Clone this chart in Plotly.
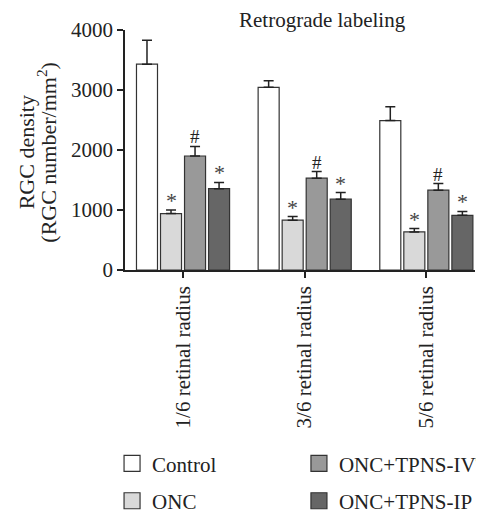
import plotly.graph_objects as go

categories = ["1/6 retinal radius", "3/6 retinal radius", "5/6 retinal radius"]
series_names = ["Control", "ONC", "ONC+TPNS-IVT", "ONC+TPNS-IP"]
control = [3430, 3045, 2490]
onc = [940, 830, 635]
ivt = [1900, 1530, 1330]
ip = [1355, 1180, 912]
control_err = [400, 110, 230]
onc_err = [60, 60, 55]
ivt_err = [160, 110, 110]
ip_err = [105, 110, 65]
marks = [["", "", ""], ["*", "*", "*"], ["#", "#", "#"], ["*", "*", "*"]]
colors = ["#ffffff", "#d9d9d9", "#999999", "#666666"]
legend_of = ["legend", "legend", "legend2", "legend2"]
ytitle_lines = ["RGC density", "(RGC number/mm<sup>2</sup>)"]

values = [control, onc, ivt, ip]
errors = [control_err, onc_err, ivt_err, ip_err]

FONT = "Liberation Serif"
INK = "#222222"
bargap = 0.21
bargroupgap = 0.125
xs = list(range(len(categories)))

fig = go.Figure()
for k, (name, vals, errs, col) in enumerate(zip(series_names, values, errors, colors)):
    fig.add_trace(go.Bar(
        x=xs, y=vals, name=name, showlegend=False,
        marker=dict(color=col, line=dict(color="#333333", width=1.2)),
        error_y=dict(type="data", array=errs, arrayminus=[0] * len(errs), symmetric=False,
                     color=INK, thickness=1.5, width=5),
    ))
    fig.add_trace(go.Scatter(
        x=[None], y=[None], mode="markers", name=name, legend=legend_of[k],
        legendgroup=name,
        marker=dict(symbol="square", size=16, color=col, line=dict(color="#333333", width=1.2)),
    ))

slot = (1 - bargap) / len(series_names)
for k in range(len(series_names)):
    for i in xs:
        m = marks[k][i]
        if not m:
            continue
        fig.add_annotation(
            x=i + (k - (len(series_names) - 1) / 2) * slot,
            y=values[k][i] + errors[k][i],
            text=m, showarrow=False, yanchor="bottom",
            yshift=-5 if m == "*" else -3,
            font=dict(family=FONT, size=22 if m == "*" else 19,
                      color="#444444" if m == "*" else INK),
        )

fig.add_annotation(
    x=0.565, xref="paper", y=1.0, yref="paper", yanchor="bottom", yshift=-4,
    text="Retrograde labeling", showarrow=False,
    font=dict(family=FONT, size=21, color=INK),
)

for j, (line, xpos) in enumerate(zip(ytitle_lines, [-0.283, -0.222])):
    fig.add_annotation(
        x=xpos, xref="paper", y=0.49, yref="paper", text=line, textangle=-90,
        showarrow=False, xanchor="center", yanchor="middle",
        font=dict(family=FONT, size=22, color=INK),
    )

leg_common = dict(orientation="v", yanchor="top", xanchor="left", tracegroupgap=7,
                  font=dict(family=FONT, size=21, color=INK), itemsizing="trace",
                  bgcolor="rgba(0,0,0,0)", borderwidth=0)
fig.update_layout(
    width=476, height=505,
    margin=dict(l=117, r=9, t=22, b=243, autoexpand=False),
    plot_bgcolor="white", paper_bgcolor="white",
    barmode="group", bargap=bargap, bargroupgap=bargroupgap,
    font=dict(family=FONT, size=20, color=INK),
    legend=dict(x=-0.037, y=-0.722, **leg_common),
    legend2=dict(x=0.497, y=-0.722, **leg_common),
    showlegend=True,
)
fig.update_xaxes(
    range=[-0.477, 2.4], tickvals=xs, ticktext=categories, tickangle=-90,
    showline=True, linecolor=INK, linewidth=1.5, ticks="outside", ticklen=6,
    tickcolor=INK, tickwidth=1.5, showgrid=False, zeroline=False,
    tickfont=dict(family=FONT, size=21, color=INK),
)
fig.update_yaxes(
    range=[0, 4000], tickvals=[0, 1000, 2000, 3000, 4000],
    showline=True, linecolor=INK, linewidth=1.5, ticks="outside", ticklen=6,
    tickcolor=INK, tickwidth=1.5, showgrid=False, zeroline=False,
    tickfont=dict(family=FONT, size=21, color=INK),
)

fig.write_html("out.html")
